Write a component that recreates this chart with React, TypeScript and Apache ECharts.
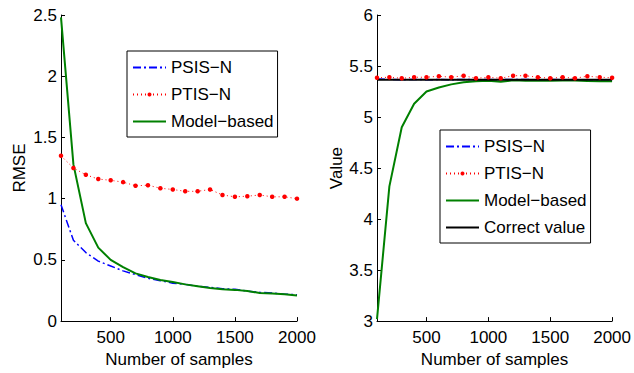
import React, { useEffect, useRef } from "react";
import * as echarts from "echarts";

const samples = [100, 200, 300, 400, 500, 600, 700, 800, 900, 1000, 1100, 1200, 1300, 1400, 1500, 1600, 1700, 1800, 1900, 2000];

// Left panel: RMSE
const rmsePSIS = [0.95, 0.66, 0.56, 0.49, 0.45, 0.41, 0.38, 0.35, 0.33, 0.31, 0.30, 0.285, 0.275, 0.265, 0.26, 0.245, 0.235, 0.23, 0.22, 0.215];
const rmsePTIS = [1.35, 1.25, 1.195, 1.16, 1.15, 1.135, 1.105, 1.11, 1.085, 1.075, 1.06, 1.06, 1.075, 1.03, 1.015, 1.02, 1.03, 1.015, 1.015, 1.0];
const rmseModel = [2.48, 1.28, 0.80, 0.60, 0.50, 0.44, 0.39, 0.36, 0.335, 0.32, 0.30, 0.285, 0.27, 0.26, 0.255, 0.245, 0.23, 0.225, 0.22, 0.21];

// Right panel: Value
const valPSIS = [5.372, 5.37, 5.366, 5.368, 5.366, 5.367, 5.366, 5.368, 5.366, 5.367, 5.366, 5.368, 5.367, 5.366, 5.367, 5.366, 5.367, 5.366, 5.366, 5.366];
const valPTIS = [5.385, 5.39, 5.38, 5.39, 5.39, 5.40, 5.39, 5.405, 5.38, 5.39, 5.38, 5.405, 5.405, 5.39, 5.38, 5.39, 5.38, 5.40, 5.39, 5.385];
const valModel = [3.02, 4.32, 4.90, 5.13, 5.25, 5.29, 5.32, 5.34, 5.35, 5.355, 5.345, 5.36, 5.355, 5.355, 5.355, 5.357, 5.357, 5.352, 5.35, 5.35];
const correctValue = 5.365;

const xTicks = [500, 1000, 1500, 2000];

const FONT = "'Liberation Sans', Arial, Helvetica, sans-serif";
const NAMES = ["PSIS\u2212N", "PTIS\u2212N", "Model\u2212based", "Correct value"];

const pair = (ys: number[]) => samples.map((x, i) => [x, ys[i]]);

export default function App() {
  const ref = useRef<HTMLDivElement>(null);
  useEffect(() => {
    if (!ref.current) return;
    const chart = echarts.init(ref.current, undefined, { renderer: "svg" });
    const axisLine = { show: true, onZero: false, lineStyle: { color: "#000", width: 1 } };
    const axisTick = { show: true, inside: true, length: 4, lineStyle: { color: "#000" } };
    const labelStyle = { fontSize: 17, color: "#000", fontFamily: FONT };
    const xAxisBase = (gridIndex: number) => ({
      type: "value",
      gridIndex,
      min: 100,
      max: 2000,
      name: "Number of samples",
      nameLocation: "middle",
      nameGap: 27,
      nameTextStyle: labelStyle,
      axisLine,
      axisTick: { ...axisTick, customValues: xTicks },
      axisLabel: { ...labelStyle, margin: 8, customValues: xTicks, formatter: (v: number) => String(v) },
      splitLine: { show: false },
    });
    const legendBase = {
      orient: "vertical",
      backgroundColor: "#fff",
      borderColor: "#000",
      borderWidth: 1,
      itemWidth: 33,
      itemHeight: 5,
      itemGap: 10,
      textStyle: { fontSize: 17, color: "#000", fontFamily: FONT },
      selectedMode: false,
    };
    const noSym = (name: string) => ({ name, itemStyle: { opacity: 0 } });
    const legendData = [noSym(NAMES[0]), { name: NAMES[1] }, noSym(NAMES[2]), noSym(NAMES[3])];
    const psisStyle = { color: "#0000ff", width: 1.5, type: [8, 3, 2, 3] };
    const ptisStyle = { color: "#ff0000", width: 1, type: [1, 3] };
    const modelStyle = { color: "#008000", width: 2, type: "solid" };
    chart.setOption({
      animation: false,
      grid: [
        { left: 61, top: 15, width: 236, height: 312 },
        { left: 377, top: 15, width: 236, height: 312 },
      ],
      xAxis: [xAxisBase(0), xAxisBase(1)],
      yAxis: [
        {
          type: "value", gridIndex: 0, min: 0, max: 2.5, interval: 0.5,
          name: "RMSE", nameLocation: "middle", nameGap: 33, nameTextStyle: labelStyle,
          axisLine, axisTick, axisLabel: { ...labelStyle, margin: 4 }, splitLine: { show: false },
        },
        {
          type: "value", gridIndex: 1, min: 3, max: 6, interval: 0.5,
          name: "Value", nameLocation: "middle", nameGap: 31, nameTextStyle: labelStyle,
          axisLine, axisTick, axisLabel: { ...labelStyle, margin: 4 }, splitLine: { show: false },
        },
      ],
      legend: [
        { ...legendBase, left: 127, top: 51, padding: [8, 4, 7, 5], data: legendData.slice(0, 3) },
        { ...legendBase, left: 440, top: 130, padding: [8, 4, 7, 5], data: legendData },
      ],
      series: [
        { name: NAMES[0], type: "line", xAxisIndex: 0, yAxisIndex: 0, data: pair(rmsePSIS), symbol: "none", lineStyle: psisStyle, itemStyle: { color: "#0000ff" } },
        { name: NAMES[1], type: "line", xAxisIndex: 0, yAxisIndex: 0, data: pair(rmsePTIS), symbol: "circle", symbolSize: 4.5, lineStyle: ptisStyle, itemStyle: { color: "#ff0000" } },
        { name: NAMES[2], type: "line", xAxisIndex: 0, yAxisIndex: 0, data: pair(rmseModel), symbol: "none", lineStyle: modelStyle, itemStyle: { color: "#008000" } },
        { name: NAMES[0], type: "line", xAxisIndex: 1, yAxisIndex: 1, data: pair(valPSIS), symbol: "none", lineStyle: psisStyle, itemStyle: { color: "#0000ff" } },
        { name: NAMES[2], type: "line", xAxisIndex: 1, yAxisIndex: 1, data: pair(valModel), symbol: "none", lineStyle: modelStyle, itemStyle: { color: "#008000" } },
        { name: NAMES[3], type: "line", xAxisIndex: 1, yAxisIndex: 1, data: [[samples[0], correctValue], [samples[samples.length - 1], correctValue]], symbol: "none", lineStyle: { color: "#000", width: 2, type: "solid" }, itemStyle: { color: "#000" } },
        { name: NAMES[1], type: "line", xAxisIndex: 1, yAxisIndex: 1, data: pair(valPTIS), symbol: "circle", symbolSize: 4.5, lineStyle: ptisStyle, itemStyle: { color: "#ff0000" } },
      ],
    });
    return () => chart.dispose();
  }, []);
  return <div ref={ref} style={{ position: "fixed", left: 0, top: 0, width: 634, height: 373, background: "#fff" }} />;
}
